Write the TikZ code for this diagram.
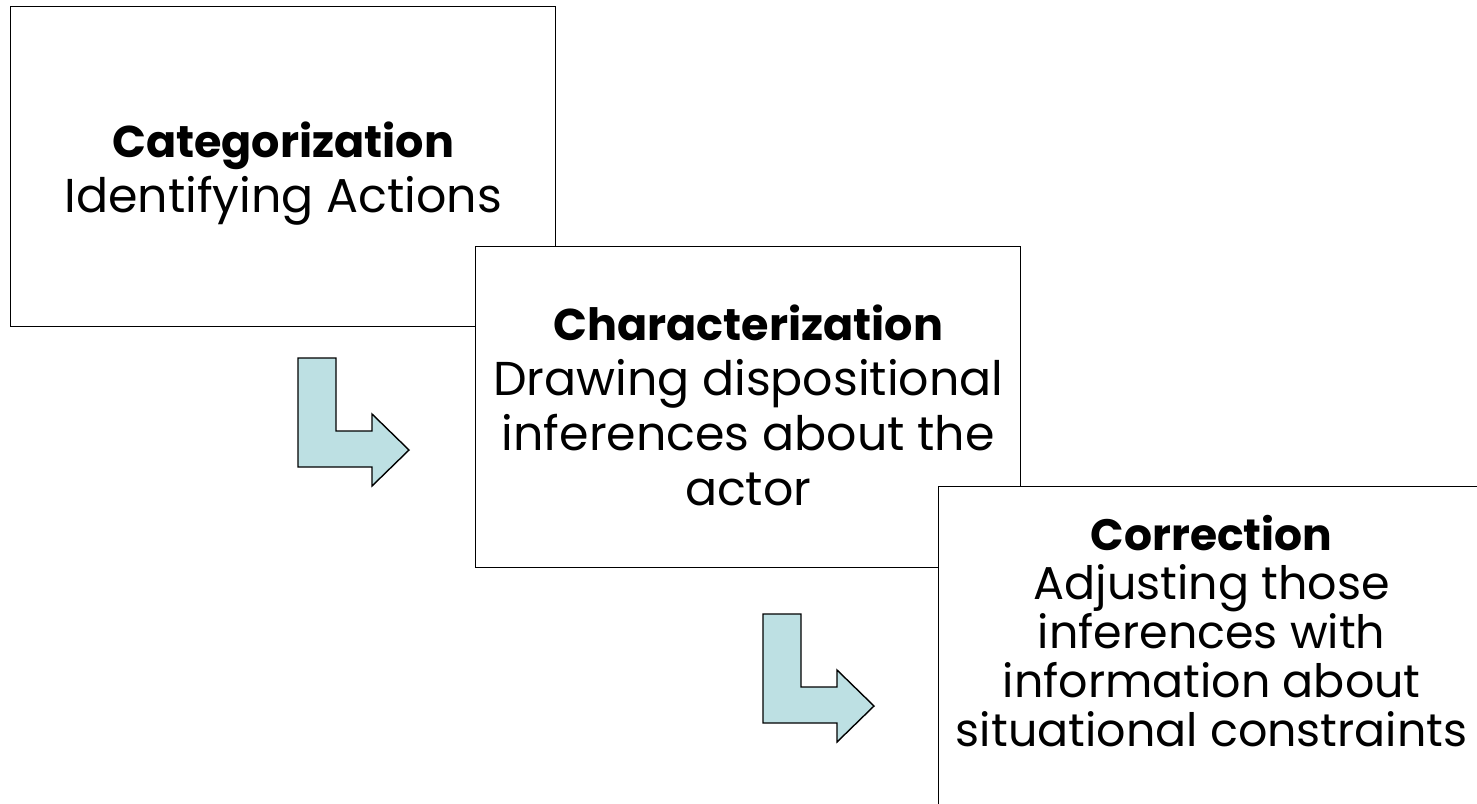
\documentclass[tikz,border=0pt]{standalone}
\usepackage{fontspec}
\setmainfont{Poppins}
\definecolor{arrowfill}{RGB}{189,224,227}
\newcommand{\headA}[1]{{\fontsize{44.5}{55}\selectfont\bfseries #1}}
\newcommand{\headB}[1]{{\fontsize{44}{49}\selectfont\bfseries #1}}
\tikzset{
  box/.style={draw=black, line width=1.4pt, fill=white, rectangle, inner sep=0pt, anchor=north west},
  bigtext/.style={align=center, font=\fontsize{47.5}{55}\selectfont, inner sep=0pt},
  smalltext/.style={align=center, font=\fontsize{46}{49}\selectfont, inner sep=0pt},
  arrowline/.style={draw=black, line width=1.4pt, fill=arrowfill, line join=miter},
  pics/bentarrow/.style={code={
    \draw[arrowline] (0,0) -- (38,0) -- (38,73) -- (74,73) -- (74,56) -- (111,92)
      -- (74,128) -- (74,109) -- (0,109) -- cycle;}}
}
\begin{document}
\begin{tikzpicture}[x=1pt,y=-1pt]
\useasboundingbox (0,0) rectangle (1477,803);
\clip (0,0) rectangle (1477,803);
\node[box, minimum width=545pt, minimum height=320pt] (cat) at (10,6) {};
\node[bigtext] (cattext) at ([yshift=-7pt]cat.center) {\headA{Categorization}\\Identifying Actions};
\pic (arrowone) at (298,358) {bentarrow};
\node[box, minimum width=545pt, minimum height=321pt] (char) at (475,246) {};
\node[bigtext] (chartext) at ([yshift=2pt]char.center) {\headA{Characterization}\\Drawing dispositional\\inferences about the\\actor};
\pic (arrowtwo) at (763,614) {bentarrow};
\node[box, minimum width=546pt, minimum height=420pt] (corr) at (938,486) {};
\node[smalltext, anchor=north] (corrtext) at ([yshift=-29pt]corr.north) {\headB{Correction}\\Adjusting those\\inferences with\\information about\\situational constraints};
\end{tikzpicture}
\end{document}
